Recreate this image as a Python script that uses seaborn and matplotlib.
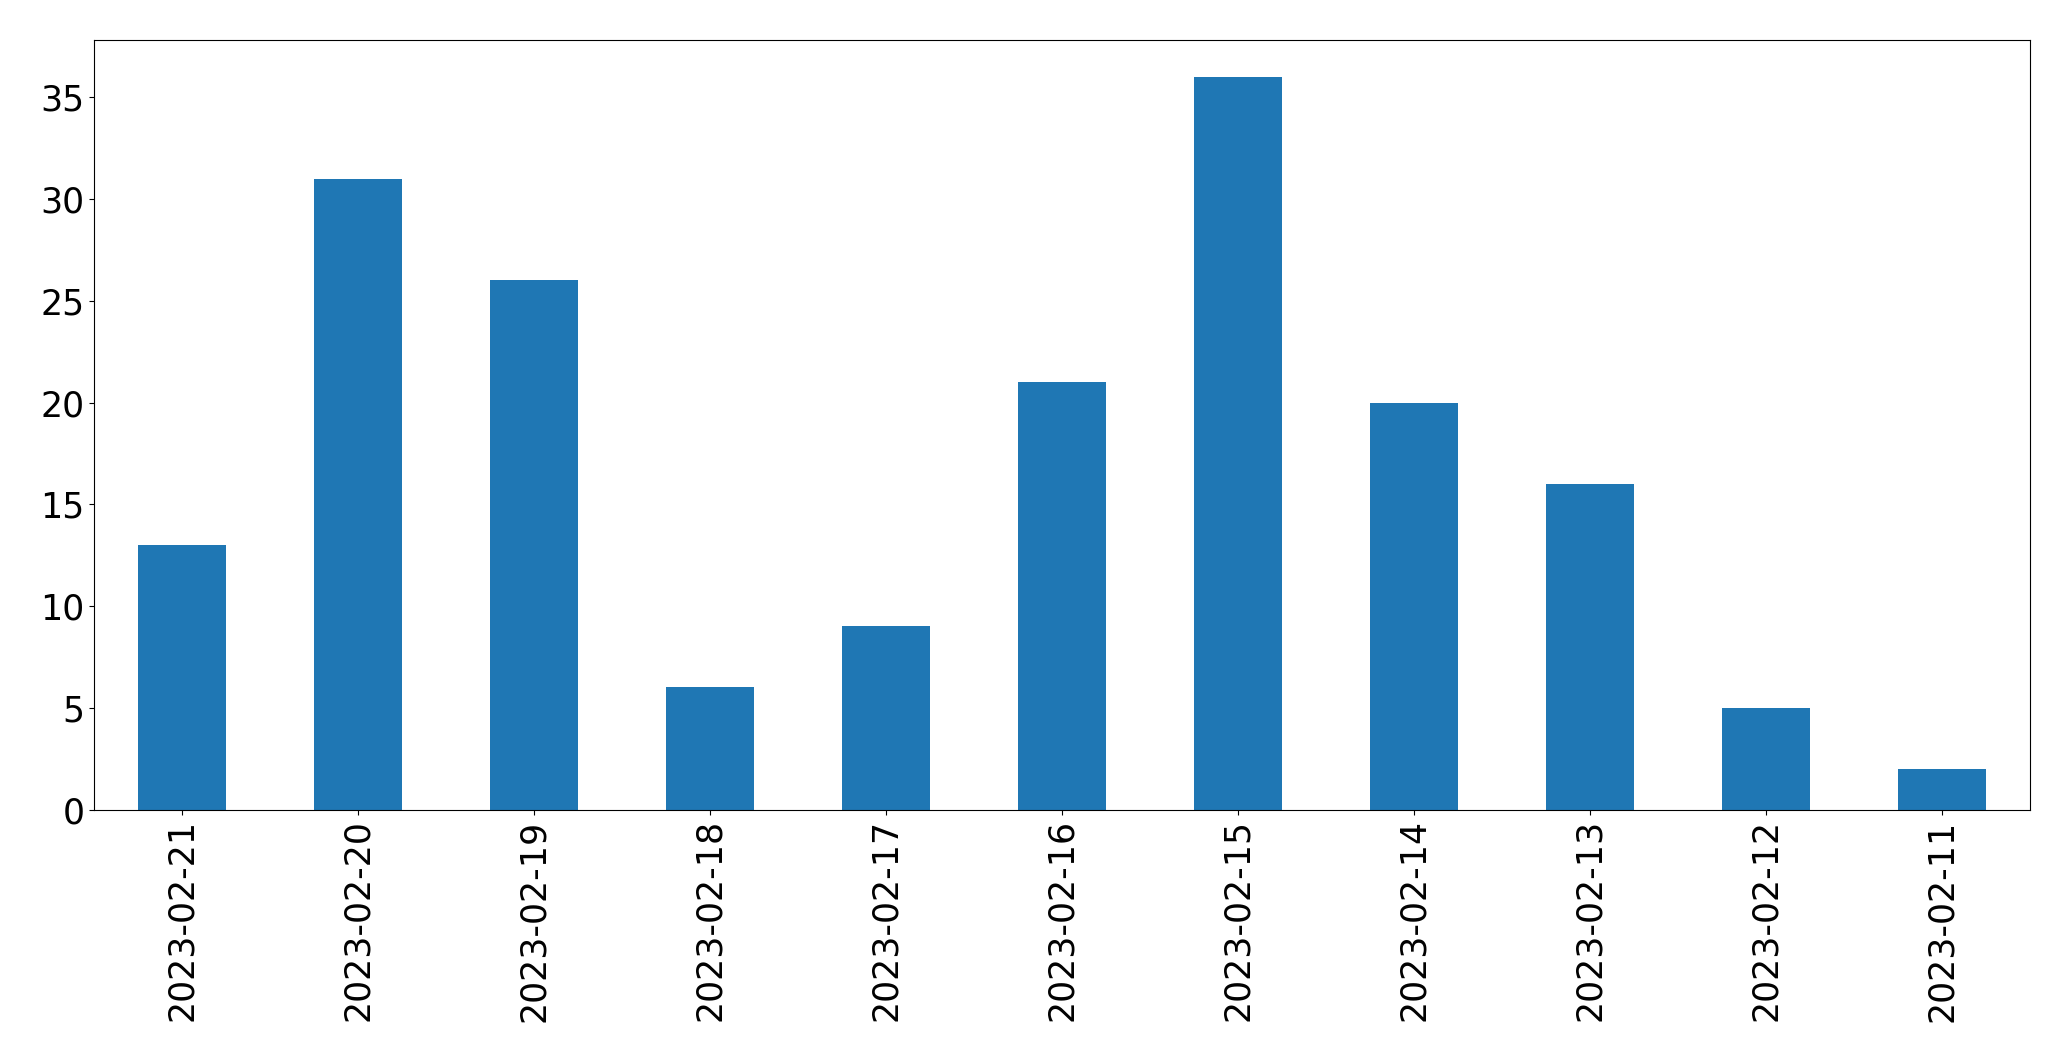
import pandas as pd
import matplotlib
matplotlib.use("Agg")
import matplotlib.pyplot as plt
import seaborn as sns

# data
dates = ["2023-02-21", "2023-02-20", "2023-02-19", "2023-02-18", "2023-02-17",
         "2023-02-16", "2023-02-15", "2023-02-14", "2023-02-13", "2023-02-12",
         "2023-02-11"]
counts = [13, 31, 26, 6, 9, 21, 36, 20, 16, 5, 2]

df = pd.DataFrame({"date": dates, "count": counts})

fig, ax = plt.subplots(figsize=(20.71, 10.61), dpi=100)
fig.subplots_adjust(left=0.0455, right=0.980, top=0.962, bottom=0.237)

sns.barplot(data=df, x="date", y="count", order=dates, color="#1f77b4",
            width=0.5, saturation=1, ax=ax)

ax.set_xlim(-0.5, len(dates) - 0.5)
ax.set_xlabel("")
ax.set_ylabel("")
ax.tick_params(axis="both", labelsize=25)
plt.xticks(rotation=90)

fig.savefig("out.png", dpi=100)
